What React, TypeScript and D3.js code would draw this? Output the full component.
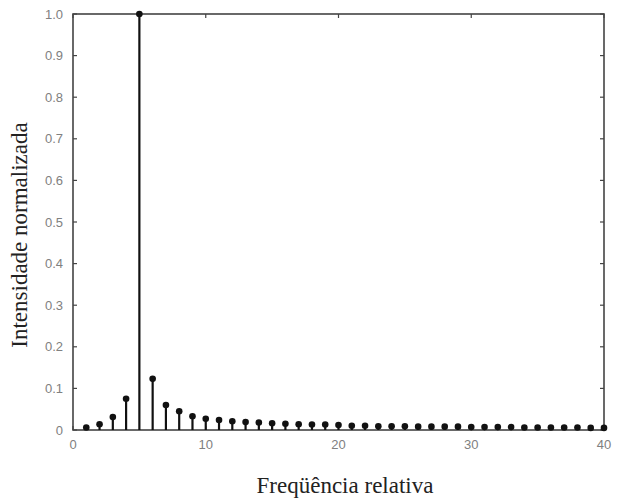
import React from "react";
import * as d3 from "d3";

// relative frequency (x) and normalized intensity (y)
const freqs = d3.range(1, 41);
const intensity = [
  0.006, 0.014, 0.031, 0.075, 1.0, 0.123, 0.06, 0.045, 0.033, 0.027,
  0.024, 0.021, 0.019, 0.018, 0.016, 0.015, 0.014, 0.013, 0.013, 0.012,
  0.010, 0.010, 0.009, 0.009, 0.009, 0.008, 0.008, 0.008, 0.008, 0.007,
  0.007, 0.007, 0.007, 0.006, 0.006, 0.006, 0.006, 0.006, 0.005, 0.005,
];
const xTicks = [0, 10, 20, 30, 40];
const yTicks = [0, 0.1, 0.2, 0.3, 0.4, 0.5, 0.6, 0.7, 0.8, 0.9, 1.0];

const App = () => {
  const ref = React.useRef<SVGSVGElement>(null);

  React.useEffect(() => {
    const width = 618;
    const height = 501;
    const margin = { left: 73, right: 14, top: 14, bottom: 71 };

    const svg = d3.select(ref.current);
    svg.selectAll("*").remove();

    const x = d3.scaleLinear().domain([0, 40]).range([margin.left, width - margin.right]);
    const y = d3.scaleLinear().domain([0, 1]).range([height - margin.bottom, margin.top]);

    const frame = "#444";
    const tickFill = "#808080";

    // frame
    svg.append("rect")
      .attr("x", x(0)).attr("y", y(1))
      .attr("width", x(40) - x(0)).attr("height", y(0) - y(1))
      .attr("fill", "none").attr("stroke", frame).attr("stroke-width", 1.6);

    // ticks pointing inward
    const tk = 4;
    svg.append("g").selectAll("line.yl").data(yTicks).join("line")
      .attr("x1", x(0)).attr("x2", x(0) + tk)
      .attr("y1", d => y(d)).attr("y2", d => y(d))
      .attr("stroke", frame).attr("stroke-width", 1.2);
    svg.append("g").selectAll("line.yr").data(yTicks).join("line")
      .attr("x1", x(40)).attr("x2", x(40) - tk)
      .attr("y1", d => y(d)).attr("y2", d => y(d))
      .attr("stroke", frame).attr("stroke-width", 1.2);
    svg.append("g").selectAll("line.xt").data(xTicks).join("line")
      .attr("x1", d => x(d)).attr("x2", d => x(d))
      .attr("y1", y(1)).attr("y2", y(1) + tk)
      .attr("stroke", frame).attr("stroke-width", 1.2);
    svg.append("g").selectAll("line.xb").data(xTicks).join("line")
      .attr("x1", d => x(d)).attr("x2", d => x(d))
      .attr("y1", y(0)).attr("y2", y(0) - tk)
      .attr("stroke", frame).attr("stroke-width", 1.2);

    // tick labels
    svg.append("g").selectAll("text").data(yTicks).join("text")
      .attr("x", x(0) - 10).attr("y", d => y(d)).attr("dy", "0.35em")
      .attr("text-anchor", "end")
      .attr("font-family", "Liberation Sans, Arial, sans-serif")
      .attr("font-size", 13).attr("fill", tickFill)
      .text(d => (d === 0 ? "0" : d3.format(".1f")(d)));
    svg.append("g").selectAll("text").data(xTicks).join("text")
      .attr("x", d => x(d)).attr("y", y(0) + 19)
      .attr("text-anchor", "middle")
      .attr("font-family", "Liberation Sans, Arial, sans-serif")
      .attr("font-size", 13).attr("fill", tickFill)
      .text(d => d);

    // stems + markers
    const pts = freqs.map((f, i) => ({ f, v: intensity[i] }));
    svg.append("g").selectAll("line").data(pts).join("line")
      .attr("x1", d => x(d.f)).attr("x2", d => x(d.f))
      .attr("y1", y(0)).attr("y2", d => y(d.v))
      .attr("stroke", "#111").attr("stroke-width", 2.2);
    svg.append("g").selectAll("circle").data(pts).join("circle")
      .attr("cx", d => x(d.f)).attr("cy", d => y(d.v))
      .attr("r", 3.3).attr("fill", "#111");

    // axis titles
    svg.append("text")
      .attr("x", 345).attr("y", 493)
      .attr("text-anchor", "middle")
      .attr("font-family", "Liberation Serif, serif")
      .attr("font-size", 23).attr("fill", "#222")
      .text("Freqüência relativa");
    svg.append("text")
      .attr("transform", `translate(27,235) rotate(-90)`)
      .attr("text-anchor", "middle")
      .attr("font-family", "Liberation Serif, serif")
      .attr("font-size", 23).attr("fill", "#222")
      .text("Intensidade normalizada");
  }, []);

  return (
    <svg
      ref={ref}
      width={618}
      height={501}
      style={{ position: "absolute", left: 0, top: 0, background: "#fff" }}
    />
  );
};

export default App;
